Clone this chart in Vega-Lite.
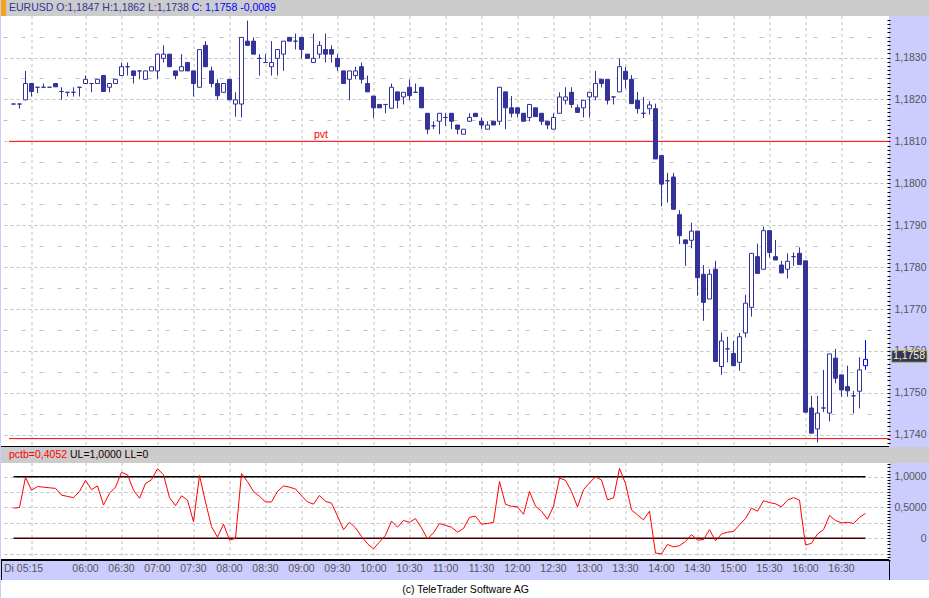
{
"$schema": "https://vega.github.io/schema/vega-lite/v6.json",
"background": "#CCCCFF",
"padding": 0,
"spacing": 0,
"bounds": "flush",
"config": {"font": "Liberation Sans", "view": {"stroke": null}, "axis": {"labelFont": "Liberation Sans", "labelFontSize": 10.5, "labelColor": "#555555"}},
"resolve": {"scale": {"x": "independent", "y": "independent"}},
"datasets": {
"levels": [{"name": "pvt", "v": 1.1810}, {"name": "", "v": 1.17391}],
"candles": [
{"t":"05:00","m":300,"o":1.18189,"h":1.18190,"l":1.18189,"c":1.18189,"p":0.49},
{"t":"05:05","m":305,"o":1.18189,"h":1.18189,"l":1.18178,"c":1.18189,"p":0.50},
{"t":"05:10","m":310,"o":1.18199,"h":1.18268,"l":1.18199,"c":1.18238,"p":0.99},
{"t":"05:15","m":315,"o":1.18238,"h":1.18238,"l":1.18207,"c":1.18219,"p":0.78},
{"t":"05:20","m":320,"o":1.18229,"h":1.18229,"l":1.18215,"c":1.18229,"p":0.84},
{"t":"05:25","m":325,"o":1.18229,"h":1.18238,"l":1.18229,"c":1.18229,"p":0.83},
{"t":"05:30","m":330,"o":1.18229,"h":1.18229,"l":1.18229,"c":1.18229,"p":0.82},
{"t":"05:35","m":335,"o":1.18238,"h":1.18238,"l":1.18230,"c":1.18230,"p":0.81},
{"t":"05:40","m":340,"o":1.18219,"h":1.18229,"l":1.18199,"c":1.18219,"p":0.70},
{"t":"05:45","m":345,"o":1.18217,"h":1.18217,"l":1.18207,"c":1.18217,"p":0.68},
{"t":"05:50","m":350,"o":1.18217,"h":1.18229,"l":1.18207,"c":1.18217,"p":0.66},
{"t":"05:55","m":355,"o":1.18229,"h":1.18229,"l":1.18207,"c":1.18229,"p":0.76},
{"t":"06:00","m":360,"o":1.18238,"h":1.18257,"l":1.18238,"c":1.18248,"p":0.94},
{"t":"06:05","m":365,"o":1.18238,"h":1.18238,"l":1.18217,"c":1.18238,"p":0.79},
{"t":"06:10","m":370,"o":1.18238,"h":1.18248,"l":1.18238,"c":1.18248,"p":0.85},
{"t":"06:15","m":375,"o":1.18257,"h":1.18257,"l":1.18219,"c":1.18219,"p":0.54},
{"t":"06:20","m":380,"o":1.18229,"h":1.18238,"l":1.18217,"c":1.18238,"p":0.73},
{"t":"06:25","m":385,"o":1.18238,"h":1.18248,"l":1.18238,"c":1.18248,"p":0.83},
{"t":"06:30","m":390,"o":1.18257,"h":1.18288,"l":1.18257,"c":1.18278,"p":1.07},
{"t":"06:35","m":395,"o":1.18278,"h":1.18288,"l":1.18257,"c":1.18278,"p":1.03},
{"t":"06:40","m":400,"o":1.18268,"h":1.18268,"l":1.18238,"c":1.18257,"p":0.78},
{"t":"06:45","m":405,"o":1.18268,"h":1.18268,"l":1.18248,"c":1.18268,"p":0.65},
{"t":"06:50","m":410,"o":1.18248,"h":1.18268,"l":1.18248,"c":1.18268,"p":0.89},
{"t":"06:55","m":415,"o":1.18268,"h":1.18278,"l":1.18268,"c":1.18278,"p":0.95},
{"t":"07:00","m":420,"o":1.18268,"h":1.18308,"l":1.18248,"c":1.18308,"p":1.13},
{"t":"07:05","m":425,"o":1.18298,"h":1.18329,"l":1.18288,"c":1.18308,"p":1.03},
{"t":"07:10","m":430,"o":1.18308,"h":1.18308,"l":1.18278,"c":1.18278,"p":0.66},
{"t":"07:15","m":435,"o":1.18268,"h":1.18268,"l":1.18248,"c":1.18257,"p":0.53},
{"t":"07:20","m":440,"o":1.18268,"h":1.18308,"l":1.18268,"c":1.18278,"p":0.69},
{"t":"07:25","m":445,"o":1.18288,"h":1.18288,"l":1.18268,"c":1.18268,"p":0.62},
{"t":"07:30","m":450,"o":1.18268,"h":1.18268,"l":1.18207,"c":1.18238,"p":0.27},
{"t":"07:35","m":455,"o":1.18229,"h":1.18319,"l":1.18229,"c":1.18319,"p":1.02},
{"t":"07:40","m":460,"o":1.18329,"h":1.18339,"l":1.18278,"c":1.18278,"p":0.59},
{"t":"07:45","m":465,"o":1.18268,"h":1.18278,"l":1.18229,"c":1.18238,"p":0.19},
{"t":"07:50","m":470,"o":1.18238,"h":1.18248,"l":1.18199,"c":1.18209,"p":0.02},
{"t":"07:55","m":475,"o":1.18217,"h":1.18238,"l":1.18217,"c":1.18238,"p":0.23},
{"t":"08:00","m":480,"o":1.18248,"h":1.18248,"l":1.18199,"c":1.18199,"p":-0.03},
{"t":"08:05","m":485,"o":1.18189,"h":1.18217,"l":1.18159,"c":1.18199,"p":0.00},
{"t":"08:10","m":490,"o":1.18189,"h":1.18348,"l":1.18157,"c":1.18348,"p":1.05},
{"t":"08:15","m":495,"o":1.18339,"h":1.18388,"l":1.18329,"c":1.18329,"p":0.92},
{"t":"08:20","m":500,"o":1.18339,"h":1.18348,"l":1.18308,"c":1.18308,"p":0.76},
{"t":"08:25","m":505,"o":1.18298,"h":1.18308,"l":1.18257,"c":1.18298,"p":0.68},
{"t":"08:30","m":510,"o":1.18288,"h":1.18308,"l":1.18288,"c":1.18288,"p":0.59},
{"t":"08:35","m":515,"o":1.18278,"h":1.18339,"l":1.18257,"c":1.18288,"p":0.59},
{"t":"08:40","m":520,"o":1.18298,"h":1.18319,"l":1.18257,"c":1.18319,"p":0.76},
{"t":"08:45","m":525,"o":1.18308,"h":1.18339,"l":1.18268,"c":1.18339,"p":0.85},
{"t":"08:50","m":530,"o":1.18348,"h":1.18348,"l":1.18339,"c":1.18339,"p":0.83},
{"t":"08:55","m":535,"o":1.18339,"h":1.18357,"l":1.18319,"c":1.18339,"p":0.80},
{"t":"09:00","m":540,"o":1.18348,"h":1.18348,"l":1.18298,"c":1.18319,"p":0.69},
{"t":"09:05","m":545,"o":1.18308,"h":1.18308,"l":1.18298,"c":1.18298,"p":0.59},
{"t":"09:10","m":550,"o":1.18288,"h":1.18357,"l":1.18288,"c":1.18298,"p":0.555},
{"t":"09:15","m":555,"o":1.18308,"h":1.18339,"l":1.18298,"c":1.18329,"p":0.695},
{"t":"09:20","m":560,"o":1.18319,"h":1.18357,"l":1.18288,"c":1.18308,"p":0.60},
{"t":"09:25","m":565,"o":1.18319,"h":1.18329,"l":1.18288,"c":1.18308,"p":0.57},
{"t":"09:30","m":570,"o":1.18298,"h":1.18308,"l":1.18268,"c":1.18278,"p":0.36},
{"t":"09:35","m":575,"o":1.18268,"h":1.18268,"l":1.18238,"c":1.18238,"p":0.14},
{"t":"09:40","m":580,"o":1.18248,"h":1.18268,"l":1.18198,"c":1.18268,"p":0.26},
{"t":"09:45","m":585,"o":1.18257,"h":1.18278,"l":1.18248,"c":1.18268,"p":0.17},
{"t":"09:50","m":590,"o":1.18278,"h":1.18288,"l":1.18238,"c":1.18248,"p":0.03},
{"t":"09:55","m":595,"o":1.18238,"h":1.18257,"l":1.18218,"c":1.18218,"p":-0.09},
{"t":"10:00","m":600,"o":1.18208,"h":1.18208,"l":1.18156,"c":1.18180,"p":-0.17},
{"t":"10:05","m":605,"o":1.18188,"h":1.18188,"l":1.18180,"c":1.18180,"p":-0.06},
{"t":"10:10","m":610,"o":1.18188,"h":1.18188,"l":1.18167,"c":1.18188,"p":0.05},
{"t":"10:15","m":615,"o":1.18179,"h":1.18238,"l":1.18179,"c":1.18229,"p":0.28},
{"t":"10:20","m":620,"o":1.18218,"h":1.18218,"l":1.18179,"c":1.18198,"p":0.18},
{"t":"10:25","m":625,"o":1.18206,"h":1.18217,"l":1.18188,"c":1.18217,"p":0.29},
{"t":"10:30","m":630,"o":1.18229,"h":1.18248,"l":1.18198,"c":1.18209,"p":0.26},
{"t":"10:35","m":635,"o":1.18217,"h":1.18238,"l":1.18217,"c":1.18217,"p":0.32},
{"t":"10:40","m":640,"o":1.18229,"h":1.18229,"l":1.18180,"c":1.18180,"p":0.17},
{"t":"10:45","m":645,"o":1.18167,"h":1.18167,"l":1.18117,"c":1.18129,"p":-0.01},
{"t":"10:50","m":650,"o":1.18137,"h":1.18148,"l":1.18129,"c":1.18137,"p":0.09},
{"t":"10:55","m":655,"o":1.18148,"h":1.18167,"l":1.18117,"c":1.18167,"p":0.24},
{"t":"11:00","m":660,"o":1.18157,"h":1.18167,"l":1.18137,"c":1.18157,"p":0.21},
{"t":"11:05","m":665,"o":1.18167,"h":1.18167,"l":1.18129,"c":1.18148,"p":0.18},
{"t":"11:10","m":670,"o":1.18139,"h":1.18139,"l":1.18117,"c":1.18129,"p":0.10},
{"t":"11:15","m":675,"o":1.18117,"h":1.18129,"l":1.18117,"c":1.18129,"p":0.16},
{"t":"11:20","m":680,"o":1.18148,"h":1.18167,"l":1.18148,"c":1.18157,"p":0.34},
{"t":"11:25","m":685,"o":1.18167,"h":1.18167,"l":1.18159,"c":1.18159,"p":0.36},
{"t":"11:30","m":690,"o":1.18148,"h":1.18157,"l":1.18129,"c":1.18139,"p":0.23},
{"t":"11:35","m":695,"o":1.18129,"h":1.18148,"l":1.18129,"c":1.18139,"p":0.24},
{"t":"11:40","m":700,"o":1.18148,"h":1.18148,"l":1.18139,"c":1.18139,"p":0.26},
{"t":"11:45","m":705,"o":1.18148,"h":1.18229,"l":1.18139,"c":1.18229,"p":0.92},
{"t":"11:50","m":710,"o":1.18218,"h":1.18218,"l":1.18129,"c":1.18180,"p":0.55},
{"t":"11:55","m":715,"o":1.18180,"h":1.18208,"l":1.18157,"c":1.18167,"p":0.52},
{"t":"12:00","m":720,"o":1.18180,"h":1.18180,"l":1.18157,"c":1.18167,"p":0.51},
{"t":"12:05","m":725,"o":1.18167,"h":1.18167,"l":1.18148,"c":1.18148,"p":0.39},
{"t":"12:10","m":730,"o":1.18157,"h":1.18188,"l":1.18148,"c":1.18188,"p":0.76},
{"t":"12:15","m":735,"o":1.18180,"h":1.18180,"l":1.18159,"c":1.18159,"p":0.52},
{"t":"12:20","m":740,"o":1.18167,"h":1.18167,"l":1.18139,"c":1.18148,"p":0.44},
{"t":"12:25","m":745,"o":1.18148,"h":1.18148,"l":1.18129,"c":1.18139,"p":0.31},
{"t":"12:30","m":750,"o":1.18129,"h":1.18167,"l":1.18129,"c":1.18157,"p":0.52},
{"t":"12:35","m":755,"o":1.18167,"h":1.18217,"l":1.18167,"c":1.18206,"p":0.98},
{"t":"12:40","m":760,"o":1.18198,"h":1.18229,"l":1.18188,"c":1.18206,"p":0.94},
{"t":"12:45","m":765,"o":1.18217,"h":1.18229,"l":1.18180,"c":1.18188,"p":0.76},
{"t":"12:50","m":770,"o":1.18180,"h":1.18188,"l":1.18169,"c":1.18169,"p":0.51},
{"t":"12:55","m":775,"o":1.18180,"h":1.18198,"l":1.18157,"c":1.18198,"p":0.79},
{"t":"13:00","m":780,"o":1.18206,"h":1.18217,"l":1.18157,"c":1.18217,"p":0.90},
{"t":"13:05","m":785,"o":1.18206,"h":1.18268,"l":1.18198,"c":1.18238,"p":1.00},
{"t":"13:10","m":790,"o":1.18248,"h":1.18248,"l":1.18229,"c":1.18238,"p":0.945},
{"t":"13:15","m":795,"o":1.18248,"h":1.18248,"l":1.18188,"c":1.18198,"p":0.625},
{"t":"13:20","m":800,"o":1.18206,"h":1.18206,"l":1.18188,"c":1.18206,"p":0.655},
{"t":"13:25","m":805,"o":1.18218,"h":1.18298,"l":1.18218,"c":1.18278,"p":1.135},
{"t":"13:30","m":810,"o":1.18267,"h":1.18278,"l":1.18226,"c":1.18248,"p":0.89},
{"t":"13:35","m":815,"o":1.18248,"h":1.18258,"l":1.18190,"c":1.18190,"p":0.46},
{"t":"13:40","m":820,"o":1.18198,"h":1.18218,"l":1.18166,"c":1.18178,"p":0.38},
{"t":"13:45","m":825,"o":1.18167,"h":1.18206,"l":1.18156,"c":1.18167,"p":0.30},
{"t":"13:50","m":830,"o":1.18178,"h":1.18196,"l":1.18164,"c":1.18187,"p":0.44},
{"t":"13:55","m":835,"o":1.18178,"h":1.18190,"l":1.18058,"c":1.18058,"p":-0.24},
{"t":"14:00","m":840,"o":1.18066,"h":1.18066,"l":1.17945,"c":1.17998,"p":-0.25},
{"t":"14:05","m":845,"o":1.18006,"h":1.18025,"l":1.17954,"c":1.18006,"p":-0.10},
{"t":"14:10","m":850,"o":1.18015,"h":1.18025,"l":1.17938,"c":1.17938,"p":-0.14},
{"t":"14:15","m":855,"o":1.17925,"h":1.17936,"l":1.17855,"c":1.17875,"p":-0.12},
{"t":"14:20","m":860,"o":1.17865,"h":1.17865,"l":1.17803,"c":1.17856,"p":-0.05},
{"t":"14:25","m":865,"o":1.17864,"h":1.17906,"l":1.17845,"c":1.17886,"p":0.06},
{"t":"14:30","m":870,"o":1.17886,"h":1.17886,"l":1.17732,"c":1.17775,"p":-0.03},
{"t":"14:35","m":875,"o":1.17783,"h":1.17805,"l":1.17672,"c":1.17716,"p":-0.02},
{"t":"14:40","m":880,"o":1.17724,"h":1.17795,"l":1.17724,"c":1.17783,"p":0.14},
{"t":"14:45","m":885,"o":1.17795,"h":1.17815,"l":1.17575,"c":1.17575,"p":-0.04},
{"t":"14:50","m":890,"o":1.17563,"h":1.17644,"l":1.17543,"c":1.17624,"p":0.07},
{"t":"14:55","m":895,"o":1.17605,"h":1.17634,"l":1.17573,"c":1.17605,"p":0.10},
{"t":"15:00","m":900,"o":1.17594,"h":1.17624,"l":1.17565,"c":1.17565,"p":0.11},
{"t":"15:05","m":905,"o":1.17573,"h":1.17643,"l":1.17553,"c":1.17634,"p":0.22},
{"t":"15:10","m":910,"o":1.17643,"h":1.17734,"l":1.17632,"c":1.17714,"p":0.32},
{"t":"15:15","m":915,"o":1.17704,"h":1.17833,"l":1.17682,"c":1.17833,"p":0.49},
{"t":"15:20","m":920,"o":1.17825,"h":1.17856,"l":1.17785,"c":1.17785,"p":0.44},
{"t":"15:25","m":925,"o":1.17795,"h":1.17897,"l":1.17795,"c":1.17887,"p":0.61},
{"t":"15:30","m":930,"o":1.17887,"h":1.17887,"l":1.17823,"c":1.17835,"p":0.58},
{"t":"15:35","m":935,"o":1.17825,"h":1.17865,"l":1.17817,"c":1.17817,"p":0.56},
{"t":"15:40","m":940,"o":1.17805,"h":1.17815,"l":1.17786,"c":1.17786,"p":0.51},
{"t":"15:45","m":945,"o":1.17795,"h":1.17833,"l":1.17773,"c":1.17814,"p":0.62},
{"t":"15:50","m":950,"o":1.17825,"h":1.17835,"l":1.17803,"c":1.17825,"p":0.66},
{"t":"15:55","m":955,"o":1.17833,"h":1.17847,"l":1.17806,"c":1.17806,"p":0.62},
{"t":"16:00","m":960,"o":1.17815,"h":1.17815,"l":1.17454,"c":1.17454,"p":-0.11},
{"t":"16:05","m":965,"o":1.17464,"h":1.17493,"l":1.17404,"c":1.17404,"p":-0.08},
{"t":"16:10","m":970,"o":1.17414,"h":1.17493,"l":1.17382,"c":1.17452,"p":0.07},
{"t":"16:15","m":975,"o":1.17464,"h":1.17555,"l":1.17454,"c":1.17464,"p":0.14},
{"t":"16:20","m":980,"o":1.17452,"h":1.17593,"l":1.17432,"c":1.17593,"p":0.37},
{"t":"16:25","m":985,"o":1.17583,"h":1.17605,"l":1.17523,"c":1.17535,"p":0.29},
{"t":"16:30","m":990,"o":1.17543,"h":1.17543,"l":1.17491,"c":1.17507,"p":0.25},
{"t":"16:35","m":995,"o":1.17515,"h":1.17565,"l":1.17491,"c":1.17505,"p":0.26},
{"t":"16:40","m":1000,"o":1.17493,"h":1.17505,"l":1.17451,"c":1.17493,"p":0.24},
{"t":"16:45","m":1005,"o":1.17504,"h":1.17585,"l":1.17463,"c":1.17555,"p":0.34},
{"t":"16:50","m":1010,"o":1.17565,"h":1.17626,"l":1.17555,"c":1.17580,"p":0.405}
]},
"vconcat": [
{
 "width": 929, "height": 16,
 "view": {"fill": "#CCCCCC", "stroke": null},
 "data": {"values": [{}]},
 "layer": [
  {"mark": {"type": "rect", "color": "#F7A21B"},
   "encoding": {
    "x": {"datum": 289.583, "type": "quantitative", "axis": null, "scale": {"domain": [289.583, 1063.75], "nice": false, "zero": false, "padding": 0}},
    "x2": {"datum": 293.75}}},
  {"mark": {"type": "text", "align": "left", "baseline": "middle", "fontSize": 10.5, "color": "#333399"},
   "encoding": {
    "x": {"datum": 296.25, "type": "quantitative", "axis": null},
    "text": {"value": "EURUSD O:1,1847 H:1,1862 L:1,1738"}}},
  {"mark": {"type": "text", "align": "left", "baseline": "middle", "fontSize": 10.5, "color": "#0000FF"},
   "encoding": {
    "x": {"datum": 448.5, "type": "quantitative", "axis": null},
    "text": {"value": "C: 1,1758 -0,0089"}}}
 ]
},
{
 "width": 888, "height": 431,
 "view": {"fill": "#FFFFFF", "stroke": null},
 "layer": [
  {"data": {"name": "levels"},
   "mark": {"type": "rule", "color": "#FF0000", "strokeWidth": 1},
   "encoding": {
    "x": {"datum": 296.25, "type": "quantitative",
          "scale": {"domain": [289.583, 1029.583], "nice": false, "zero": false, "padding": 0},
          "axis": {"orient": "bottom", "title": null, "labels": false, "ticks": false, "domain": true, "domainColor": "#000000", "domainWidth": 2, "grid": true, "gridColor": "#C0C0C0", "gridDash": [3,3], "translate": 0,
                   "values": [315,360,390,420,450,480,510,540,570,600,630,660,690,720,750,780,810,840,870,900,930,960,990]}},
    "x2": {"datum": 1029.583},
    "y": {"field": "v", "type": "quantitative",
          "scale": {"domain": [1.17371, 1.18399], "nice": false, "zero": false, "padding": 0},
          "axis": {"orient": "right", "offset": -2, "title": null, "tickCount": 100, "domain": false, "tickSize": 3, "tickColor": "#000000", "labelAlign": "right", "labelPadding": 36, "labelOverlap": false, "labelBound": false, "labelFlush": false,
                   "labelExpr": "abs(datum.value*1000 - round(datum.value*1000)) < 0.01 ? replace(format(datum.value, '.4f'), '.', ',') : ''",
                   "grid": true, "gridColor": "#C0C0C0",
                   "gridOpacity": {"condition": {"test": "abs(datum.value*2000 - round(datum.value*2000)) < 0.01", "value": 1}, "value": 0},
                   "gridDash": {"condition": {"test": "abs(datum.value*1000 - round(datum.value*1000)) < 0.01", "value": [3,3]}, "value": [4,14]}}}}},
  {"data": {"name": "candles"},
   "mark": {"type": "rule", "strokeWidth": 1},
   "encoding": {
    "x": {"field": "m", "type": "quantitative"},
    "y": {"field": "l", "type": "quantitative"},
    "y2": {"field": "h"},
    "color": {"condition": {"test": "datum.m == 1010", "value": "#0000FF"}, "value": "#333399"}}},
  {"data": {"name": "candles"},
   "mark": {"type": "bar", "width": 4, "strokeWidth": 1},
   "encoding": {
    "x": {"field": "m", "type": "quantitative"},
    "y": {"field": "o", "type": "quantitative"},
    "y2": {"field": "c"},
    "fill": {"condition": {"test": "datum.c < datum.o", "value": "#333399"}, "value": "#FFFFFF"},
    "stroke": {"condition": {"test": "datum.m == 1010", "value": "#0000FF"}, "value": "#333399"}}},
  {"data": {"name": "levels"},
   "mark": {"type": "text", "color": "#FF0000", "fontSize": 10.5, "align": "center", "baseline": "bottom", "dy": -1},
   "encoding": {
    "x": {"datum": 556.25, "type": "quantitative"},
    "y": {"field": "v", "type": "quantitative"},
    "text": {"field": "name"}}},
  {"data": {"values": [{}]},
   "mark": {"type": "rect", "fill": "#333366", "stroke": "#B8B860", "strokeWidth": 1},
   "encoding": {
    "x": {"datum": 1031.833, "type": "quantitative"},
    "x2": {"datum": 1061.25},
    "y": {"datum": 1.17601, "type": "quantitative"},
    "y2": {"datum": 1.17573}}},
  {"data": {"values": [{}]},
   "mark": {"type": "text", "color": "#FFFF99", "fontSize": 10.5, "align": "center", "baseline": "middle"},
   "encoding": {
    "x": {"datum": 1046.25, "type": "quantitative"},
    "y": {"datum": 1.17587, "type": "quantitative"},
    "text": {"value": "1,1758"}}}
 ]
},
{
 "width": 929, "height": 16,
 "view": {"fill": "#CCCCCC", "stroke": null},
 "data": {"values": [{}]},
 "layer": [
  {"mark": {"type": "text", "align": "left", "baseline": "middle", "fontSize": 10.5, "color": "#FF0000"},
   "encoding": {
    "x": {"datum": 296.25, "type": "quantitative", "axis": null, "scale": {"domain": [289.583, 1063.75], "nice": false, "zero": false, "padding": 0}},
    "text": {"value": "pctb=0,4052"}}},
  {"mark": {"type": "text", "align": "left", "baseline": "middle", "fontSize": 10.5, "color": "#1A0000"},
   "encoding": {
    "x": {"datum": 347.083, "type": "quantitative", "axis": null},
    "text": {"value": "UL=1,0000 LL=0"}}}
 ]
},
{
 "width": 888, "height": 97,
 "view": {"fill": "#FFFFFF", "stroke": null},
 "layer": [
  {"data": {"name": "candles"},
   "mark": {"type": "rule", "color": "#000000", "strokeWidth": 1.5},
   "encoding": {
    "x": {"aggregate": "min", "field": "m", "type": "quantitative",
          "scale": {"domain": [289.583, 1029.583], "nice": false, "zero": false, "padding": 0},
          "axis": {"orient": "bottom", "title": null, "labels": true, "ticks": false, "domain": true, "domainColor": "#000000", "domainWidth": 2, "grid": true, "gridColor": "#C0C0C0", "gridDash": [3,3], "translate": 0,
                   "labelExpr": "datum.value == 315 ? 'Di 05:15' : timeFormat(datetime(2000, 0, 1, 0, datum.value), '%H:%M')",
                   "labelOffset": {"condition": {"test": "datum.value == 315", "value": -8}, "value": 0},
                   "labelPadding": 4, "labelColor": "#555555", "labelFontSize": 10.5, "labelOverlap": false, "labelFlush": false, "labelBound": false,
                   "values": [315,360,390,420,450,480,510,540,570,600,630,660,690,720,750,780,810,840,870,900,930,960,990]}},
    "x2": {"aggregate": "max", "field": "m"},
    "y": {"datum": 1, "type": "quantitative",
          "scale": {"domain": [-0.352, 1.222], "nice": false, "zero": false, "padding": 0},
          "axis": {"orient": "right", "offset": -2, "title": null, "tickCount": 31, "domain": false, "tickSize": 3, "tickColor": "#000000", "labelAlign": "right", "labelPadding": 36, "labelOverlap": false, "labelBound": false, "labelFlush": false,
                   "labelExpr": "abs(datum.value*2 - round(datum.value*2)) < 0.001 ? (abs(datum.value) < 0.001 ? '0' : replace(format(datum.value, '.4f'), '.', ',')) : ''",
                   "grid": true, "gridColor": "#C0C0C0", "gridDash": [3,3],
                   "gridOpacity": {"condition": {"test": "abs(datum.value*4 - round(datum.value*4)) < 0.001", "value": 1}, "value": 0}}}}},
  {"data": {"name": "candles"},
   "mark": {"type": "rule", "color": "#400000", "strokeWidth": 1.5},
   "encoding": {
    "x": {"aggregate": "min", "field": "m", "type": "quantitative"},
    "x2": {"aggregate": "max", "field": "m"},
    "y": {"datum": 0, "type": "quantitative"}}},
  {"data": {"name": "candles"},
   "mark": {"type": "line", "color": "#FF0000", "strokeWidth": 1},
   "encoding": {
    "x": {"field": "m", "type": "quantitative"},
    "y": {"field": "p", "type": "quantitative"}}}
 ]
},
{
 "width": 888, "height": 20,
 "view": {"fill": null, "stroke": "#000000", "strokeWidth": 1},
 "data": {"values": [{}]},
 "mark": {"type": "text"},
 "encoding": {"text": {"value": ""}}
},
{
 "width": 929, "height": 18,
 "view": {"fill": "#FFFFFF", "stroke": null},
 "data": {"values": [{}]},
 "mark": {"type": "text", "fontSize": 10.5, "color": "#000000", "dy": 1},
 "encoding": {"text": {"value": "(c) TeleTrader Software AG"}}
}
]
}
